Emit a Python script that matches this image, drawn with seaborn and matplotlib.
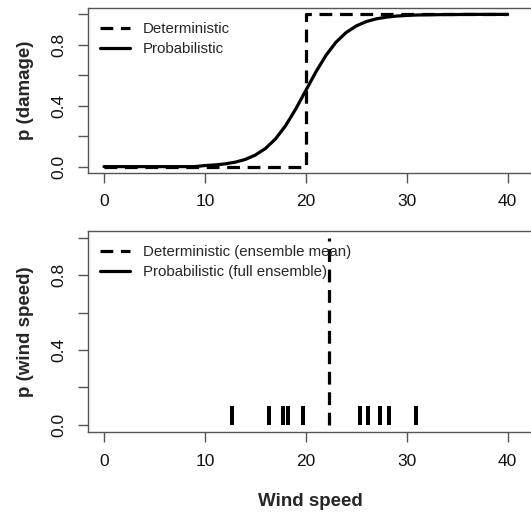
import numpy as np
import pandas as pd
import matplotlib
matplotlib.use("Agg")
import matplotlib.pyplot as plt
import seaborn as sns
from matplotlib.lines import Line2D

# ---- data ----
wind_x = list(range(0, 41))
p_damage = [0.000, 0.000, 0.000, 0.000, 0.000, 0.000, 0.000, 0.000, 0.000, 0.000,
            0.007, 0.011, 0.018, 0.029, 0.047, 0.076, 0.119, 0.182, 0.269, 0.378,
            0.500, 0.622, 0.731, 0.818, 0.881, 0.924, 0.953, 0.971, 0.982, 0.989,
            0.993, 0.996, 0.997, 0.998, 0.999, 0.999, 1.000, 1.000, 1.000, 1.000,
            1.000]
det_x = [0, 20, 20, 40]
det_y = [0, 0, 1, 1]
ensemble = [12.7, 16.4, 17.7, 18.2, 19.7, 25.4, 26.2, 27.4, 28.2, 30.9]
rug_height = 0.1
x_ticks = [0, 10, 20, 30, 40]
y_ticks = [0.0, 0.2, 0.4, 0.6, 0.8, 1.0]
y_ticklabels = ["0.0", "", "0.4", "", "0.8", ""]

sns.set_theme(style="ticks")
plt.rcParams['font.family'] = ['Liberation Sans', 'DejaVu Sans']
spine_col = '#555555'
plt.rcParams.update({
    'axes.edgecolor': spine_col, 'axes.linewidth': 1.0,
    'xtick.color': spine_col, 'ytick.color': spine_col,
    'xtick.labelcolor': '#111111', 'ytick.labelcolor': '#111111',
    'xtick.major.size': 7, 'ytick.major.size': 7.5,
    'xtick.major.width': 1.0, 'ytick.major.width': 1.0,
    'xtick.major.pad': 8.5, 'ytick.major.pad': 8.5,
    'xtick.labelsize': 12.5, 'ytick.labelsize': 12.5,
})

W, H = 531, 512
fig = plt.figure(figsize=(W / 100, H / 100), dpi=100)

left_px, right_px = 88.3, 540
x0_px, xscale = 104.0, 10.09
xlim = ((left_px - x0_px) / xscale, (right_px - x0_px) / xscale)

def axes_rect(top_px, bottom_px):
    return [left_px / W, 1 - bottom_px / H, (right_px - left_px) / W, (bottom_px - top_px) / H]

ax1 = fig.add_axes(axes_rect(8.3, 172.7))
ax2 = fig.add_axes(axes_rect(230.7, 432.0))

dash = (0, (4, 2.4))
lw = 2.3

df_top = pd.DataFrame({'x': wind_x, 'p': p_damage})
df_det = pd.DataFrame({'x': det_x, 'p': det_y})
sns.lineplot(data=df_det, x='x', y='p', ax=ax1, color='black', lw=lw,
             linestyle=dash, sort=False, estimator=None)
sns.lineplot(data=df_top, x='x', y='p', ax=ax1, color='black', lw=lw,
             sort=False, estimator=None)

ax2.vlines(ensemble, 0, rug_height, color='black', lw=2.9)
mean_ws = float(np.mean(ensemble))
df_mean = pd.DataFrame({'x': [mean_ws, mean_ws], 'p': [0, 1]})
sns.lineplot(data=df_mean, x='x', y='p', ax=ax2, color='black', lw=lw,
             linestyle=dash, sort=False, estimator=None)

for ax in (ax1, ax2):
    ax.set_xlim(*xlim)
    ax.set_ylim(-0.04, 1.04)
    ax.set_xticks(x_ticks)
    ax.set_xticklabels([str(t) for t in x_ticks])
    ax.set_yticks(y_ticks)
    ax.set_yticklabels(y_ticklabels, rotation=90, va='center')
    ax.spines['right'].set_visible(True)
    ax.set_xlabel('')
    ax.set_facecolor('white')

ax1.set_ylabel('p (damage)', fontsize=13.5, fontweight='bold')
ax2.set_ylabel('p (wind speed)', fontsize=13.5, fontweight='bold')
ax1.yaxis.set_label_coords(-0.120, 0.5)
ax2.yaxis.set_label_coords(-0.120, 0.5)
ax2.set_xlabel('Wind speed', fontsize=13.5, fontweight='bold')
ax2.xaxis.set_label_coords((310 - left_px) / (right_px - left_px), -0.305)

leg_kw = dict(loc='upper left', frameon=False, fontsize=10.8, handlelength=2.0,
              handletextpad=0.85, labelspacing=0.4, borderpad=0, borderaxespad=0)
h_det = Line2D([], [], color='black', lw=lw, linestyle=dash)
h_prob = Line2D([], [], color='black', lw=lw)
ax1.legend([h_det, h_prob], ['Deterministic', 'Probabilistic'],
           bbox_to_anchor=(0.026, 0.917), **leg_kw)
ax2.legend([h_det, h_prob], ['Deterministic (ensemble mean)', 'Probabilistic (full ensemble)'],
           bbox_to_anchor=(0.026, 0.93), **leg_kw)

fig.savefig('out.png', dpi=100, facecolor='white')
